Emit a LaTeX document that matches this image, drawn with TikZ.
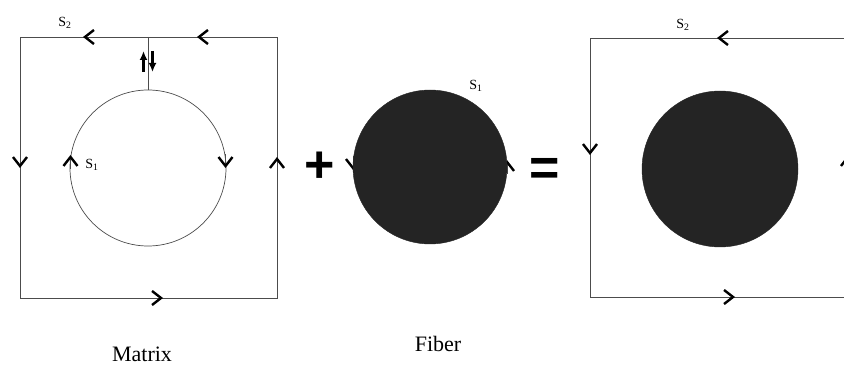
\documentclass[tikz,border=0pt]{standalone}
\usepackage{fontspec}
\setmainfont{Liberation Serif}
\newfontfamily\signfont{Liberation Sans}
\usetikzlibrary{arrows.meta, positioning}

\tikzset{
  frameline/.style={draw=black!70, line width=0.7pt},
  chev/.style={frameline, -{Straight Barb[length=9pt,width=14pt,line width=2.4pt,color=black]}},
  lab/.style={font=\fontsize{14}{14}\selectfont, inner sep=0pt},
  namelab/.style={font=\fontsize{22}{22}\selectfont, inner sep=0pt},
  opsign/.style={font=\signfont\bfseries\fontsize{52}{52}\selectfont, inner sep=0pt},
  solid fiber/.style={fill=black!86, draw=black!86},
}

\begin{document}
\begin{tikzpicture}[x=1pt, y=-1pt]
  \clip (0,0) rectangle (844,366);

  % マトリックス（左）
  \coordinate (mtl) at (20,37);
  \coordinate (mbr) at (277,298);
  \draw[frameline] (mtl) rectangle (mbr);
  \draw[frameline] (148,37) -- (148,90);
  \draw[frameline] (148,168) circle (78);
  \node[lab] (s2m) at (65,23) {S\textsubscript{2}};
  \node[lab] (s1m) at (92,165) {S\textsubscript{1}};
  % 境界の向き
  \draw[chev] (97,37) -- (83,37);
  \draw[chev] (211,37) -- (197,37);
  \draw[chev] (20,154) -- (20,168);
  \draw[chev] (277,171) -- (277,157);
  \draw[chev] (149,298) -- (163,298);
  \draw[chev] (70.5,169) -- (70.5,155);
  \draw[chev] (225.5,154) -- (225.5,168);
  % 上下の矢印
  \draw[-{Latex[length=9pt,width=8pt]}, line width=2.2pt] (143.5,72) -- (143.5,51);
  \draw[-{Latex[length=9pt,width=8pt]}, line width=2.2pt] (152.5,51) -- (152.5,72);

  \node[opsign] (plus) at (320,167) {+};

  % ファイバー（中央）
  \draw[chev] (353,156) -- (353,170);
  \draw[chev] (507,174) -- (507,160);
  \fill[solid fiber] (430,167) circle (77);
  \node[lab] (s1f) at (476,86) {S\textsubscript{1}};

  \node[opsign] (equal) at (545,172) {=};

  % 結果（右）
  \coordinate (rtl) at (590,38);
  \coordinate (rbr) at (848,297);
  \draw[frameline] (rtl) rectangle (rbr);
  \fill[solid fiber] (720,169) circle (78);
  \node[lab] (s2r) at (683,25) {S\textsubscript{2}};
  \draw[chev] (731,38) -- (717,38);
  \draw[chev] (590,141) -- (590,155);
  \draw[chev] (721,297) -- (735,297);
  \draw[chev] (848,169) -- (848,155);

  % 名前
  \node[namelab] (matrix) at (142,354) {Matrix};
  \node[namelab] (fiber) at (438,344) {Fiber};
\end{tikzpicture}
\end{document}
